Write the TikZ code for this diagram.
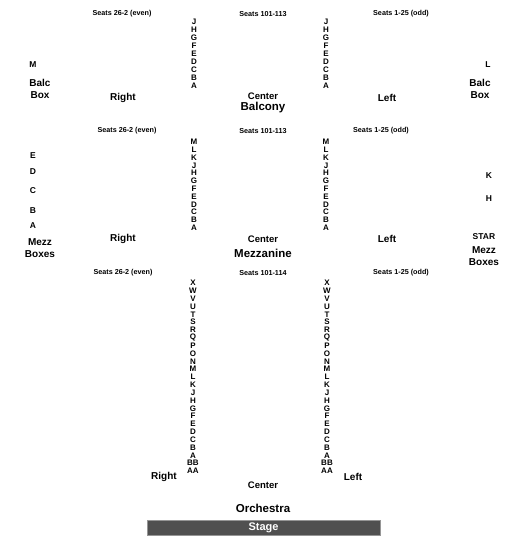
\documentclass[tikz,border=0pt]{standalone}
\usepackage{fontspec}
\setmainfont{Liberation Sans}
\definecolor{stagefill}{RGB}{80,80,80}
\definecolor{stageline}{RGB}{150,150,150}
\begin{document}
\begin{tikzpicture}[x=1pt,y=-1pt,
  seat/.style={font=\bfseries\fontsize{7.2}{8}\selectfont, inner sep=0},
  rowl/.style={font=\bfseries\fontsize{8}{7}\selectfont, inner sep=0},
  side/.style={font=\bfseries\fontsize{10}{11.5}\selectfont, inner sep=0, align=center},
  ctr/.style={font=\bfseries\fontsize{9.5}{11}\selectfont, inner sep=0},
  boxl/.style={font=\bfseries\fontsize{8.5}{10}\selectfont, inner sep=0},
  big/.style={font=\bfseries\fontsize{11.5}{13}\selectfont, inner sep=0}]
\useasboundingbox (0,0) rectangle (525,550);
% ---------- Balcony ----------
\node[seat] (bs1) at (122,14) {Seats 26-2 (even)};
\node[seat] (bs2) at (263,14) {Seats 101-113};
\node[seat] (bs3) at (401,14) {Seats 1-25 (odd)};
\foreach \l [count=\i] in {J,H,G,F,E,D,C,B,A} {
  \node[rowl] (bla\i) at (194,{22+8*(\i-1)}) {\l};
  \node[rowl] (blb\i) at (326,{22+8*(\i-1)}) {\l};
}
\node[boxl] (bm) at (33,65) {M};
\node[side] (bbl) at (40,89) {Balc\\Box};
\node[side] (bright) at (123,98) {Right};
\node[ctr] (bcenter) at (263,96) {Center};
\node[big] (balcony) at (263,108) {Balcony};
\node[side] (bleft) at (387,98) {Left};
\node[boxl] (bl) at (488,65) {L};
\node[side] (bbr) at (480,89) {Balc\\Box};
% ---------- Mezzanine ----------
\node[seat] (ms1) at (127,131) {Seats 26-2 (even)};
\node[seat] (ms2) at (263,131) {Seats 101-113};
\node[seat] (ms3) at (381,131) {Seats 1-25 (odd)};
\foreach \l [count=\i] in {M,L,K,J,H,G,F,E,D,C,B,A} {
  \node[rowl] (mla\i) at (194,{142+7.8*(\i-1)}) {\l};
  \node[rowl] (mlb\i) at (326,{142+7.8*(\i-1)}) {\l};
}
\node[boxl] (me) at (33,156) {E};
\node[boxl] (md) at (33,172) {D};
\node[boxl] (mc) at (33,191) {C};
\node[boxl] (mb) at (33,211) {B};
\node[boxl] (ma) at (33,226) {A};
\node[side] (mbl) at (40,248) {Mezz\\Boxes};
\node[side] (mright) at (123,239) {Right};
\node[ctr] (mcenter) at (263,239) {Center};
\node[big] (mezz) at (263,253) {Mezzanine};
\node[side] (mleft) at (387,239) {Left};
\node[boxl] (mk) at (489,176) {K};
\node[boxl] (mh) at (489,199) {H};
\node[boxl] (star) at (484,237) {STAR};
\node[side] (mbr) at (484,256) {Mezz\\Boxes};
% ---------- Orchestra ----------
\node[seat] (os1) at (123,273) {Seats 26-2 (even)};
\node[seat] (os2) at (263,273) {Seats 101-114};
\node[seat] (os3) at (401,273) {Seats 1-25 (odd)};
\foreach \l [count=\i] in {X,W,V,U,T,S,R,Q,P,O,N,M,L,K,J,H,G,F,E,D,C,B,A,BB,AA} {
  \node[rowl] (ola\i) at (193,{283+7.83*(\i-1)}) {\l};
  \node[rowl] (olb\i) at (327,{283+7.83*(\i-1)}) {\l};
}
\node[side] (oright) at (164,477) {Right};
\node[ctr] (ocenter) at (263,485) {Center};
\node[side] (oleft) at (353,477) {Left};
\node[big] (orch) at (263,508) {Orchestra};
\node[fill=stagefill, draw=stageline, line width=0.8pt, minimum width=233pt, minimum height=15pt, inner sep=0,
  text=white, font=\bfseries\fontsize{11}{13}\selectfont] (stage) at (263.5,528) {Stage};
\end{tikzpicture}
\end{document}
